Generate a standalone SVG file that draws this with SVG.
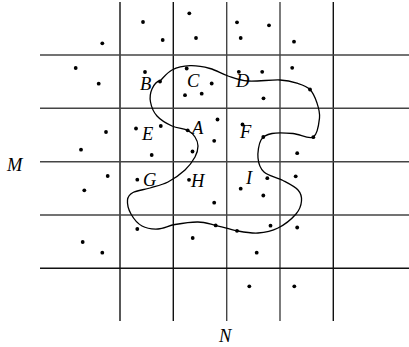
<svg xmlns="http://www.w3.org/2000/svg" width="409" height="347" viewBox="0 0 409 347">
<style>
.g1{stroke:#111;stroke-width:1.4;fill:none}
.g2{stroke:#444;stroke-width:1.4;fill:none}
.cv{stroke:#000;stroke-width:1.3;fill:none}
.lb{font-family:"Liberation Serif","Times New Roman",serif;font-style:italic;font-size:18.5px;fill:#000}
.dots circle{fill:#000}
</style>
<rect width="409" height="347" fill="#fff"/>
<g id="grid">
<line class="g1" x1="120" y1="2" x2="120" y2="321"/>
<line class="g1" x1="173.3" y1="2" x2="173.3" y2="321"/>
<line class="g2" x1="226.7" y1="2" x2="226.7" y2="321"/>
<line class="g2" x1="280" y1="2" x2="280" y2="321"/>
<line class="g1" x1="333.3" y1="2" x2="333.3" y2="321"/>
<line class="g2" x1="40" y1="55" x2="409" y2="55"/>
<line class="g2" x1="40" y1="108.3" x2="409" y2="108.3"/>
<line class="g2" x1="40" y1="161.7" x2="409" y2="161.7"/>
<line class="g2" x1="40" y1="215" x2="409" y2="215"/>
<line class="g1" x1="40" y1="268.3" x2="409" y2="268.3"/>
</g>
<g id="curve">
<path class="cv" d="M160,81 C163.33,77.83 167,72.55 172,70 C177,67.45 183.67,65.950 190,65.7 C196.33,65.45 203.67,66.78 210,68.5 C216.33,70.22 221.67,73.92 228,76 C234.33,78.08 239.33,80.33 248,81 C256.67,81.67 271.67,79.58 280,80 C288.33,80.42 293,81.92 298,83.5 C303,85.08 306.83,86.25 310,89.5 C313.17,92.75 315.42,98.25 317,103 C318.58,107.75 320.12,112.33 319.5,118 C318.88,123.67 317.72,134.42 313.3,137 C308.88,139.58 299.88,134.08 293,133.5 C286.12,132.92 277.33,132.42 272,133.5 C266.67,134.58 263.33,135.92 261,140 C258.67,144.08 257.5,152.67 258,158 C258.5,163.33 259.83,168.25 264,172 C268.17,175.75 277.33,177.5 283,180.5 C288.67,183.5 294.92,186.58 298,190 C301.08,193.42 301.83,197 301.5,201 C301.17,205 299.92,209.5 296,214 C292.08,218.5 284.33,224.83 278,228 C271.67,231.17 264.83,232.53 258,233 C251.17,233.47 244.05,232.08 237,230.8 C229.95,229.52 222.2,226.77 215.7,225.3 C209.2,223.83 204.78,222.13 198,222 C191.22,221.87 181.67,223.33 175,224.5 C168.33,225.67 163.5,228.75 158,229 C152.5,229.25 146.5,228.5 142,226 C137.5,223.5 133.42,218.33 131,214 C128.58,209.67 127.17,203.58 127.5,200 C127.83,196.42 129.25,194.5 133,192.5 C136.75,190.5 144.17,189.75 150,188 C155.83,186.25 162.17,185 168,182 C173.83,179 180.5,174.17 185,170 C189.5,165.83 192.83,161 195,157 C197.17,153 198,149.33 198,146 C198,142.67 196.72,139.62 195,137 C193.28,134.38 191.53,132.13 187.7,130.3 C183.87,128.47 177.12,128.38 172,126 C166.88,123.62 160.58,120 157,116 C153.42,112 151.33,106.5 150.5,102 C149.67,97.5 150.42,92.5 152,89 C153.58,85.5 156.67,81.17 160,81 Z"/>
</g>
<g id="dots" class="dots">
<circle cx="102.3" cy="43.3" r="1.9"/><circle cx="143" cy="22" r="1.9"/><circle cx="162.7" cy="40" r="1.9"/><circle cx="189.3" cy="13.3" r="1.9"/><circle cx="196" cy="38" r="1.9"/>
<circle cx="237" cy="22.3" r="1.9"/><circle cx="269" cy="25.3" r="1.9"/><circle cx="240.7" cy="38" r="1.9"/><circle cx="294" cy="41.7" r="1.9"/>
<circle cx="75.7" cy="68" r="1.9"/><circle cx="98.7" cy="83.7" r="1.9"/><circle cx="145" cy="72" r="1.9"/><circle cx="160" cy="81.5" r="1.9"/><circle cx="186.7" cy="68.5" r="1.9"/>
<circle cx="211.7" cy="83.5" r="1.9"/><circle cx="185" cy="95.2" r="1.9"/><circle cx="201.7" cy="93.7" r="1.9"/><circle cx="238.8" cy="71.8" r="1.9"/><circle cx="262.2" cy="71.8" r="1.9"/>
<circle cx="292.2" cy="67.8" r="1.9"/><circle cx="263.5" cy="98.3" r="1.9"/><circle cx="310" cy="89.5" r="1.9"/>
<circle cx="106" cy="132" r="1.9"/><circle cx="136" cy="128.5" r="1.9"/><circle cx="160.8" cy="126" r="1.9"/><circle cx="187.7" cy="130.3" r="1.9"/><circle cx="217.5" cy="119.5" r="1.9"/>
<circle cx="214.2" cy="140.8" r="1.9"/><circle cx="242.5" cy="124.5" r="1.9"/><circle cx="263.3" cy="137" r="1.9"/><circle cx="313.3" cy="137.2" r="1.9"/>
<circle cx="81" cy="149.7" r="1.9"/><circle cx="151.7" cy="155" r="1.9"/><circle cx="192.5" cy="151.5" r="1.9"/><circle cx="297.2" cy="153.2" r="1.9"/>
<circle cx="107.7" cy="176" r="1.9"/><circle cx="137.3" cy="179.7" r="1.9"/><circle cx="189" cy="179.8" r="1.9"/><circle cx="267.3" cy="178.2" r="1.9"/><circle cx="295.7" cy="176.3" r="1.9"/>
<circle cx="84.3" cy="190.3" r="1.9"/><circle cx="240.7" cy="188.7" r="1.9"/><circle cx="263.3" cy="195.5" r="1.9"/><circle cx="214.2" cy="202.7" r="1.9"/>
<circle cx="137.3" cy="229" r="1.9"/><circle cx="192.7" cy="238" r="1.9"/><circle cx="215.7" cy="225.4" r="1.9"/><circle cx="237" cy="230.8" r="1.9"/><circle cx="270.5" cy="225.7" r="1.9"/><circle cx="297.2" cy="227.5" r="1.9"/>
<circle cx="82.7" cy="242" r="1.9"/><circle cx="102.3" cy="252.7" r="1.9"/><circle cx="256.7" cy="252.7" r="1.9"/><circle cx="249.3" cy="286.3" r="1.9"/><circle cx="294.3" cy="286.3" r="1.9"/>
</g>
<g id="labels">
<text class="lb" x="140" y="90">B</text>
<text class="lb" x="187" y="87">C</text>
<text class="lb" x="236" y="87">D</text>
<text class="lb" x="142" y="140">E</text>
<text class="lb" x="192" y="134">A</text>
<text class="lb" x="240" y="138">F</text>
<text class="lb" x="143" y="186">G</text>
<text class="lb" x="191" y="187">H</text>
<text class="lb" x="246" y="184">I</text>
<text class="lb" x="7" y="171">M</text>
<text class="lb" x="219" y="342">N</text>
</g>
</svg>
